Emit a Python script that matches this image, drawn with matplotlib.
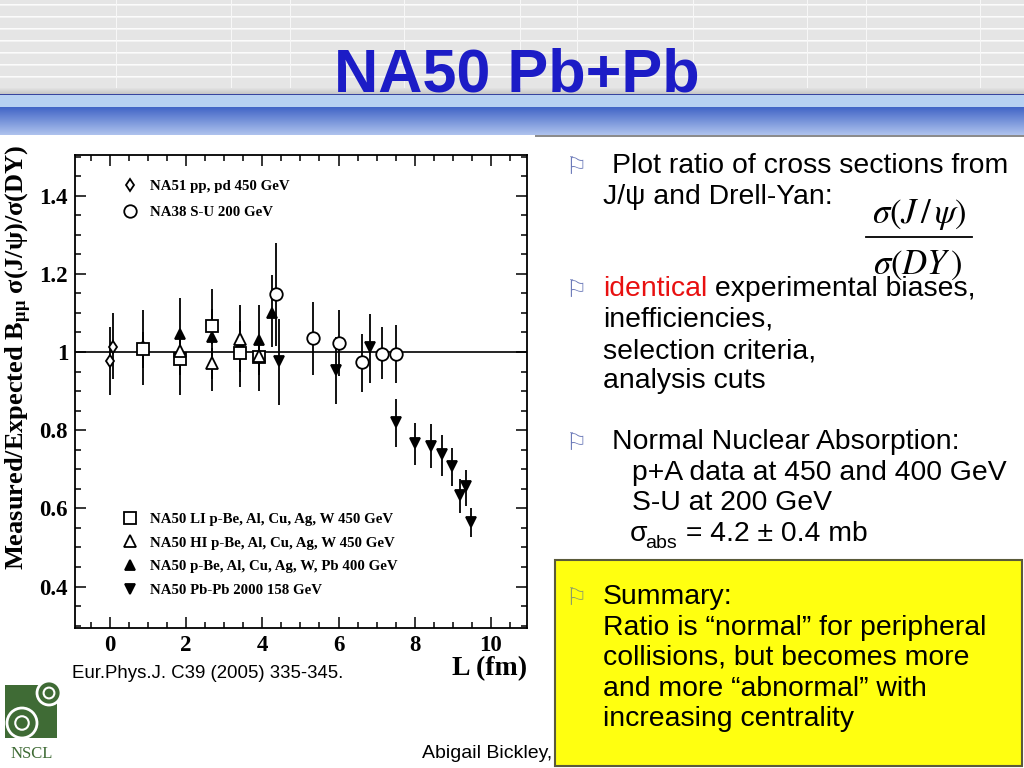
import numpy as np
import matplotlib
matplotlib.use("Agg")
import matplotlib.pyplot as plt
from matplotlib.lines import Line2D
from matplotlib.patches import Rectangle, Circle
from matplotlib.ticker import MultipleLocator, FuncFormatter

# ---- data (L in fm, ratio measured/expected) ----
na51_L = [0.0, 0.07]
na51_R = [0.978, 1.014]
na51_lo = [0.890, 0.930]
na51_hi = [1.065, 1.100]

na38_L = [4.37, 5.34, 6.02, 6.63, 7.15, 7.50]
na38_R = [1.148, 1.035, 1.022, 0.974, 0.996, 0.996]
na38_lo = [1.015, 0.940, 0.938, 0.899, 0.930, 0.922]
na38_hi = [1.280, 1.129, 1.107, 1.046, 1.064, 1.070]

li_L = [0.87, 1.84, 2.68, 3.41, 3.92]
li_R = [1.007, 0.983, 1.066, 0.997, 0.988]
li_lo = [0.960, 0.940, 1.020, 0.950, 0.940]
li_hi = [1.050, 1.030, 1.110, 1.040, 1.030]

hi_L = [1.84, 2.68, 3.41, 3.92]
hi_R = [1.003, 0.971, 1.033, 0.990]
hi_lo = [0.960, 0.930, 0.990, 0.950]
hi_hi = [1.050, 1.010, 1.080, 1.030]

p400_L = [0.87, 1.84, 2.68, 3.41, 3.92, 4.25]
p400_R = [1.015, 1.046, 1.038, 1.018, 1.031, 1.101]
p400_lo = [0.915, 0.890, 0.900, 0.910, 0.900, 1.014]
p400_hi = [1.107, 1.138, 1.160, 1.120, 1.120, 1.196]

pb_L = [4.44, 5.93, 6.82, 7.50, 8.00, 8.42, 8.73, 8.99, 9.19, 9.34, 9.47]
pb_R = [0.978, 0.954, 1.012, 0.822, 0.766, 0.760, 0.739, 0.708, 0.633, 0.656, 0.566]
pb_lo = [0.865, 0.866, 0.922, 0.758, 0.711, 0.703, 0.684, 0.656, 0.589, 0.606, 0.527]
pb_hi = [1.085, 1.039, 1.096, 0.881, 0.818, 0.816, 0.788, 0.754, 0.674, 0.698, 0.602]

legend_top = ["NA51 pp, pd 450 GeV", "NA38 S-U 200 GeV"]
legend_bottom = ["NA50 LI p-Be, Al, Cu, Ag, W 450 GeV",
                 "NA50 HI p-Be, Al, Cu, Ag, W 450 GeV",
                 "NA50 p-Be, Al, Cu, Ag, W, Pb 400 GeV",
                 "NA50 Pb-Pb 2000 158 GeV"]

plt.rcParams['mathtext.fontset'] = 'custom'
plt.rcParams['mathtext.rm'] = 'Liberation Serif:bold'
plt.rcParams['mathtext.it'] = 'Liberation Serif:italic:bold'
plt.rcParams['mathtext.bf'] = 'Liberation Serif:bold'

SANS = 'Liberation Sans'
SERIF = 'Liberation Serif'

fig = plt.figure(figsize=(10.24, 7.68), dpi=100)

# background axes in pixel coordinates (y down)
bg = fig.add_axes([0, 0, 1, 1])
bg.set_xlim(0, 1024)
bg.set_ylim(768, 0)
bg.axis('off')

# slide header: grey stripes + blue band
H = 140
img = np.ones((H, 1024, 3))
img[:90] = 0.90
for r in range(4, 88, 12):
    img[r] = 0.985
    img[r + 1] = 0.95
for c in [116, 231, 290, 404, 520, 577, 693, 807, 866, 980]:
    img[:90, c] = 0.97
for i, r in enumerate(range(88, 94)):
    img[r] = 0.88 - i * 0.02
img[94] = (0.22, 0.27, 0.62)
img[95:107] = (0.72, 0.82, 0.95)
for i, r in enumerate(range(107, 135)):
    t = i / 27.0
    img[r] = (0.26 + 0.42 * t, 0.40 + 0.36 * t, 0.78 + 0.15 * t)
img[135:137] = 0.55
img[137:] = 1.0
img[135:, :535] = 1.0
bg.imshow(img, extent=(0, 1024, H, 0), aspect='auto', interpolation='bilinear')

bg.text(517, 92, 'NA50 Pb+Pb', ha='center', va='baseline', fontsize=44,
        fontweight='bold', color='#1c1cc6', family=SANS)

# ---- chart ----
ax = fig.add_axes([75 / 1024, 1 - 628 / 768, 452 / 1024, 473 / 768])
ax.set_xlim(-0.92, 10.95)
ax.set_ylim(0.294, 1.504)
ax.axhline(1.0, color='k', lw=1.2, zorder=1)


def draw(L, R, lo, hi, marker, ms, filled):
    R = np.array(R)
    yerr = [R - np.array(lo), np.array(hi) - R]
    ax.errorbar(L, R, yerr=yerr, fmt='none', ecolor='k', elinewidth=1.3, capsize=0, zorder=2)
    ax.plot(L, R, ls='none', marker=marker, ms=ms, mec='k', mew=1.3,
            mfc='k' if filled else 'white', zorder=3)


draw(na51_L, na51_R, na51_lo, na51_hi, 'd', 6, False)
draw(na38_L, na38_R, na38_lo, na38_hi, 'o', 9, False)
draw(p400_L, p400_R, p400_lo, p400_hi, '^', 7.5, True)
draw(li_L, li_R, li_lo, li_hi, 's', 8, False)
draw(hi_L, hi_R, hi_lo, hi_hi, '^', 8, False)
draw(pb_L, pb_R, pb_lo, pb_hi, 'v', 7.5, True)

ax.xaxis.set_major_locator(MultipleLocator(2))
ax.xaxis.set_minor_locator(MultipleLocator(0.5))
ax.yaxis.set_major_locator(MultipleLocator(0.2))
ax.yaxis.set_minor_locator(MultipleLocator(0.05))
ax.yaxis.set_major_formatter(FuncFormatter(lambda v, p: f"{v:g}"))
ax.tick_params(which='both', direction='in', top=True, right=True, width=1.1)
ax.tick_params(which='major', length=8, labelsize=16.5, pad=5)
ax.tick_params(which='minor', length=4)
for lab in ax.get_xticklabels() + ax.get_yticklabels():
    lab.set_fontfamily(SERIF)
    lab.set_fontweight('bold')
for s in ax.spines.values():
    s.set_linewidth(1.3)

lp = dict(prop={'family': SERIF, 'weight': 'bold', 'size': 10.7}, frameon=False,
          handlelength=1.0, handletextpad=0.85, borderpad=0, borderaxespad=0,
          loc='upper left')
h1 = [Line2D([], [], ls='none', marker='d', ms=6, mec='k', mfc='white', mew=1.3),
      Line2D([], [], ls='none', marker='o', ms=9, mec='k', mfc='white', mew=1.3)]
leg1 = ax.legend(h1, legend_top, bbox_to_anchor=(0.105, 0.947), labelspacing=0.8, **lp)
ax.add_artist(leg1)
h2 = [Line2D([], [], ls='none', marker='s', ms=8, mec='k', mfc='white', mew=1.3),
      Line2D([], [], ls='none', marker='^', ms=8, mec='k', mfc='white', mew=1.3),
      Line2D([], [], ls='none', marker='^', ms=7.5, mec='k', mfc='k', mew=1.3),
      Line2D([], [], ls='none', marker='v', ms=7.5, mec='k', mfc='k', mew=1.3)]
ax.legend(h2, legend_bottom, bbox_to_anchor=(0.105, 0.244), labelspacing=0.69, **lp)

ax.set_xlabel('L (fm)', fontsize=20, fontweight='bold', family=SERIF)
ax.xaxis.set_label_coords(1.0, -0.085)
ax.xaxis.label.set_ha('right')
ax.xaxis.label.set_va('center')

bg.text(19, 357, r'Measured/Expected B$_{\mathrm{\mu\mu}}$ σ(J/ψ)/σ(DY)', rotation=90,
        ha='center', va='center', fontsize=19, fontweight='bold', family=SERIF)

bg.text(72, 678, 'Eur.Phys.J. C39 (2005) 335-345.', fontsize=13.4, family=SANS, va='baseline')
bg.text(552, 758, 'Abigail Bickley,', fontsize=14, family=SANS, va='baseline', ha='right')

# NSCL logo
green = '#3f6b35'
bg.add_patch(Rectangle((5, 685), 52, 53, fc=green, ec='none'))
for cx, cy, r in [(49, 693, 12), (22, 723, 15)]:
    bg.add_patch(Circle((cx, cy), r, fc=green, ec='white', lw=2))
    bg.add_patch(Circle((cx, cy), r * 0.45, fc='none', ec='white', lw=1.5))
bg.text(32, 758, 'NSCL', fontsize=12, family=SERIF, color=green, ha='center', va='baseline')

# ---- right-hand bullet text ----
FS = 20.4
flag_col = '#6a78b8'


def flag(y, col=flag_col):
    bg.text(577, y, '⚐', fontsize=17, color=col, ha='center', va='baseline', family='DejaVu Sans')


def line(x, y, s, col='black', size=FS):
    return bg.text(x, y, s, fontsize=size, family=SANS, color=col, va='baseline')


flag(174)
line(612, 173, 'Plot ratio of cross sections from')
line(603, 204, 'J/ψ and Drell-Yan:')
bg.text(919, 223, r'$\sigma(J\,/\,\psi)$', fontsize=25, ha='center', va='baseline', math_fontfamily='stix')
bg.plot([866, 972], [237, 237], color='k', lw=1.3)
bg.text(918, 274, r'$\sigma(DY\,)$', fontsize=25, ha='center', va='baseline', math_fontfamily='stix')

flag(297)
line(603, 296, 'identical', col='#e81010')
line(707, 296, ' experimental biases,')
line(603, 327, 'inefficiencies,')
line(603, 358, 'selection criteria,')
line(603, 388, 'analysis cuts')

flag(450)
line(612, 449, 'Normal Nuclear Absorption:')
line(632, 480, 'p+A data at 450 and 400 GeV')
line(632, 510, 'S-U at 200 GeV')
line(630, 541, 'σ')
line(645, 548, 'abs', size=14)
line(678, 541, ' = 4.2 ± 0.4 mb')

# summary box
bg.add_patch(Rectangle((555, 560), 467, 206, fc='#ffff10', ec='#5a5a3a', lw=1.5))
flag(605, col='#8a9a6a')
line(603, 604, 'Summary:')
line(603, 635, 'Ratio is “normal” for peripheral')
line(603, 665, 'collisions, but becomes more')
line(603, 696, 'and more “abnormal” with')
line(603, 726, 'increasing centrality')

fig.savefig('out.png', dpi=100)
